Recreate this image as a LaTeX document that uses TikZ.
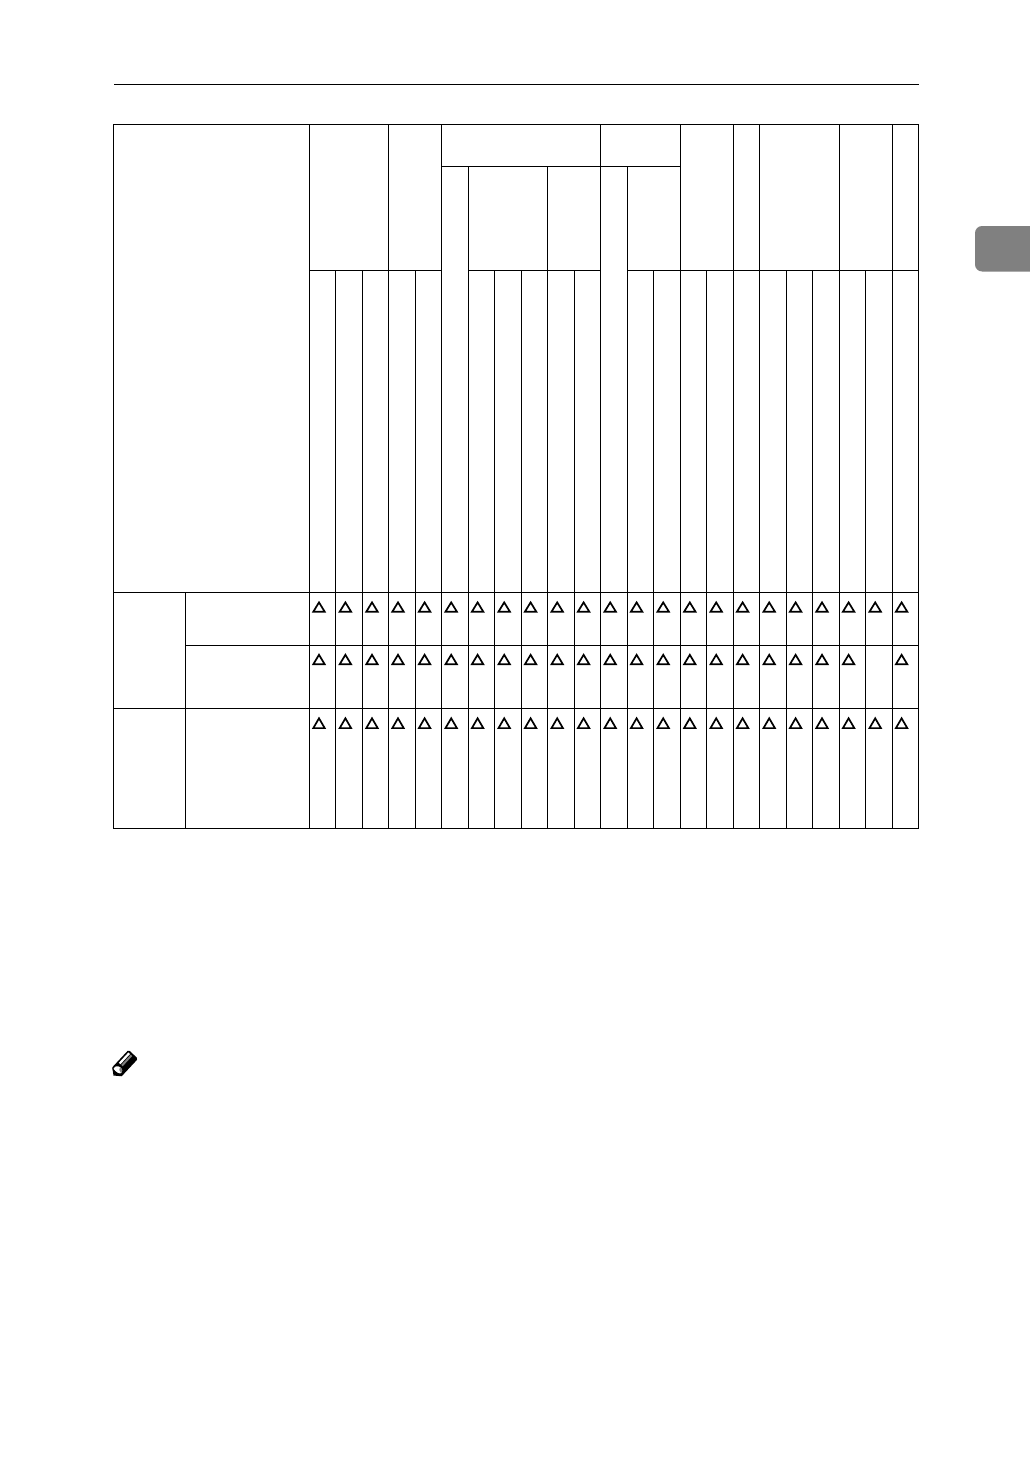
\documentclass[tikz,border=0pt]{standalone}
\definecolor{tabgray}{HTML}{808080}
\tikzset{
  grid line/.style={draw=black,line width=1pt,line cap=rect},
  tri mark/.style={draw=black,line width=1.7pt,line join=miter,fill=none},
}
\begin{document}
\begin{tikzpicture}[x=1pt,y=-1pt]
\useasboundingbox (0,0) rectangle (1030,1458);
\fill[white] (0,0) rectangle (1030,1458);
% running rule
\draw[grid line] (114,84.3) -- (918,84.3);
% thumb tab
\fill[tabgray,rounded corners=7pt] (1045,226) -- (975,226) -- (975,271.5) -- (1045,271.5) -- cycle;
\fill[white] (1030,220) rectangle (1040,280);
% outer frame and horizontals
\draw[grid line] (113.5,124.3) rectangle (918,828.3);
\draw[grid line] (441.6,166.3) -- (680,166.3);
\draw[grid line] (309.4,270.3) -- (441.6,270.3);
\draw[grid line] (468,270.3) -- (600.6,270.3);
\draw[grid line] (627,270.3) -- (918,270.3);
\draw[grid line] (113.5,592.3) -- (918,592.3);
\draw[grid line] (185.4,645.3) -- (918,645.3);
\draw[grid line] (113.5,708.2) -- (918,708.2);
\draw[grid line] (185.4,592.3) -- (185.4,828.3);
% verticals from the top
\foreach \x in {309.4,388.4,441.6,600.6,680.2,733,759.6,839,892}
  \draw[grid line] (\x,124.3) -- (\x,828.3);
% verticals from the second level
\foreach \x in {468,547.6,627}
  \draw[grid line] (\x,166.3) -- (\x,828.3);
% verticals from the third level
\foreach \x in {335.6,362.4,415,494.6,521,574,653.6,706.6,786,812.4,865.6}
  \draw[grid line] (\x,270.3) -- (\x,828.3);
% triangle marks
\foreach \x in {309.4,335.8,362.4,388.4,415,441.6,468,494.6,521,547.6,574,600.6,627,653.6,680.2,706.6,733,759.6,786,812.4,839,865.6,892}{
  \draw[tri mark] (\x+3.9,611.7) -- (\x+9.6,602.4) -- (\x+15.3,611.7) -- cycle;
  \draw[tri mark] (\x+3.9,728.1) -- (\x+9.6,718.3) -- (\x+15.3,728.1) -- cycle;
}
\foreach \x in {309.4,335.8,362.4,388.4,415,441.6,468,494.6,521,547.6,574,600.6,627,653.6,680.2,706.6,733,759.6,786,812.4,839,892}
  \draw[tri mark] (\x+3.9,664.3) -- (\x+9.6,654.8) -- (\x+15.3,664.3) -- cycle;
% note pencil
\begin{scope}[shift={(113.5,1075.5)},rotate=47]
  \fill[black,rounded corners=1.5pt] (4,-6.5) -- (29,-6.5) -- (29,6.5) -- (4,6.5) -- cycle;
  \fill[black] (0,0) -- (5,-6.5) -- (5,6.5) -- cycle;
  \fill[white] (5,-4.5) .. controls (8,-5.5) and (10,-4) .. (10.5,-1) .. controls (11,2) and (9,4.5) .. (7,4) .. controls (5,3.5) and (4,-1) .. (5,-4.5) -- cycle;
  \fill[gray] (8,0.5) .. controls (9,-0.5) and (10.2,-0.5) .. (10.5,-1) .. controls (11,2) and (9,4.5) .. (7,4) .. controls (7.2,3) and (7.5,1.5) .. (8,0.5) -- cycle;
  \fill[white] (13,-4.8) -- (27,-4.8) -- (27,-2.6) -- (13,-2.6) -- cycle;
  \fill[gray] (13,-1.6) -- (27,-1.6) -- (27,0.4) -- (13,0.4) -- cycle;
\end{scope}
\end{tikzpicture}
\end{document}
